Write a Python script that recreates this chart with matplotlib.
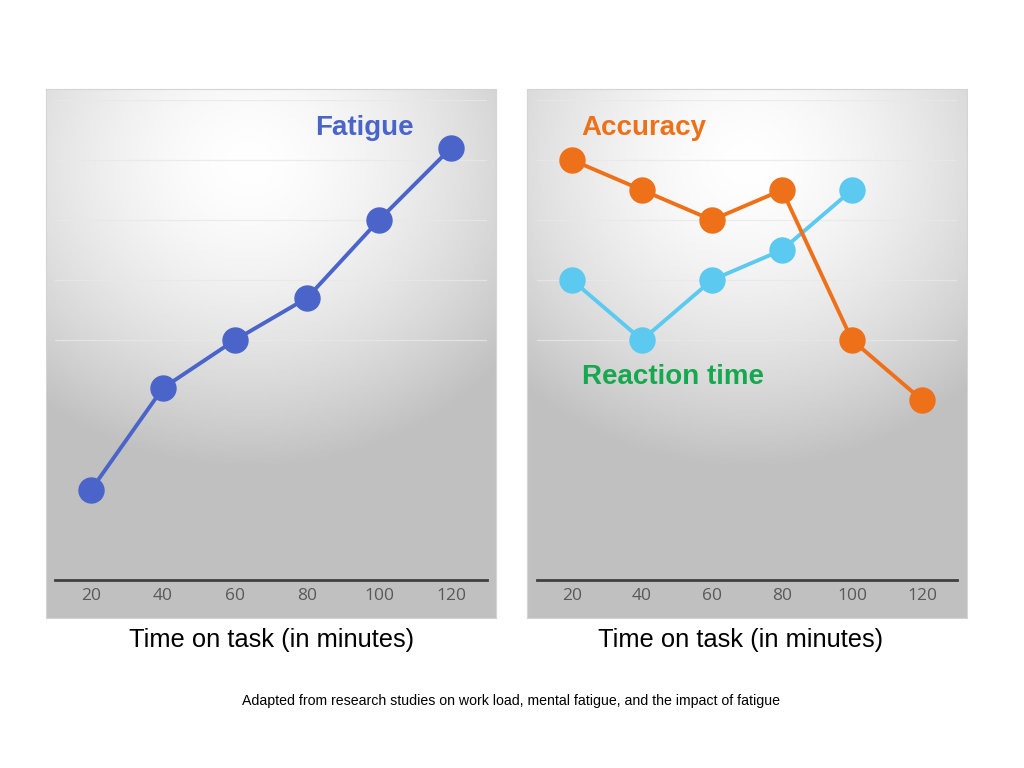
import numpy as np
import matplotlib
matplotlib.use("Agg")
import matplotlib.pyplot as plt

minutes = ["20", "40", "60", "80", "100", "120"]
fatigue = [1.5, 3.2, 4.0, 4.7, 6.0, 7.2]
accuracy = [7.0, 6.5, 6.0, 6.5, 4.0, 3.0]
reaction = [5.0, 4.0, 5.0, 5.5, 6.5]

blue = "#4a64c9"
orange = "#ee7119"
cyan = "#5bc9f0"
green = "#16a84f"

W, H = 1024, 768
fig = plt.figure(figsize=(W / 100, H / 100), dpi=100)


def frac(x0, y0, x1, y1):
    # pixel box -> figure fraction [left, bottom, width, height]
    return [x0 / W, 1 - y1 / H, (x1 - x0) / W, (y1 - y0) / H]


def gradient(cx):
    ny, nx = 300, 300
    yy, xx = np.mgrid[0:1:ny * 1j, 0:1:nx * 1j]
    r = np.sqrt(((xx - cx) / 0.75) ** 2 + ((yy - 0.14) / 0.58) ** 2)
    v = 255 - 63 * np.clip(r, 0, 1) ** 1.6
    return np.dstack([v, v, v]).astype(np.uint8)


def panel(px, ax_px, cx):
    bg = fig.add_axes(frac(*px))
    bg.imshow(gradient(cx), aspect="auto", extent=[0, 1, 0, 1], origin="upper")
    bg.set_xticks([])
    bg.set_yticks([])
    for s in bg.spines.values():
        s.set_color("#d4d4d4")
        s.set_linewidth(0.8)

    ax = fig.add_axes(frac(*ax_px))
    ax.patch.set_alpha(0)
    ax.set_xlim(-0.5, len(minutes) - 0.5)
    ax.set_ylim(0, 8)
    for v in range(4, 9):
        ax.axhline(v, color="#e8e8e8", lw=0.9, alpha=0.8, zorder=1)
    ax.set_yticks([])
    ax.set_xticks(range(len(minutes)))
    ax.set_xticklabels(minutes, fontfamily="Open Sans", fontsize=12.5, color="#595959")
    ax.tick_params(axis="x", length=0, pad=6)
    for k in ["top", "left", "right"]:
        ax.spines[k].set_visible(False)
    ax.spines["bottom"].set_color("#404040")
    ax.spines["bottom"].set_linewidth(2)
    return ax


lab_font = dict(fontfamily="Liberation Sans", fontweight="bold", fontsize=20,
                ha="center", va="center")
line_kw = dict(marker="o", markersize=18, linewidth=2.8, zorder=3)

ax1 = panel((46, 89, 496, 618), (55, 100, 487, 580), 0.45)
x = np.arange(len(minutes))
ax1.plot(x, fatigue, color=blue, **line_kw)
ax1.text(3.8, 7.53, "Fatigue", color=blue, **lab_font)

ax2 = panel((527, 89, 967, 618), (537, 100, 957, 580), 0.5)
ax2.plot(x[:len(reaction)], reaction, color=cyan, **line_kw)
ax2.plot(x, accuracy, color=orange, **line_kw)
ax2.text(1.03, 7.53, "Accuracy", color=orange, **lab_font)
ax2.text(1.45, 3.38, "Reaction time", color=green, **lab_font)

fig.text(272 / W, 1 - 640 / H, "Time on task (in minutes)", fontfamily="Liberation Sans",
         fontsize=18.4, ha="center", va="center", color="black")
fig.text(741 / W, 1 - 640 / H, "Time on task (in minutes)", fontfamily="Liberation Sans",
         fontsize=18.4, ha="center", va="center", color="black")
fig.text(511 / W, 1 - 701 / H,
         "Adapted from research studies on work load, mental fatigue, and the impact of fatigue",
         fontfamily="Liberation Sans", fontsize=10.15, ha="center", va="center", color="black")

fig.savefig("out.png", dpi=100)
